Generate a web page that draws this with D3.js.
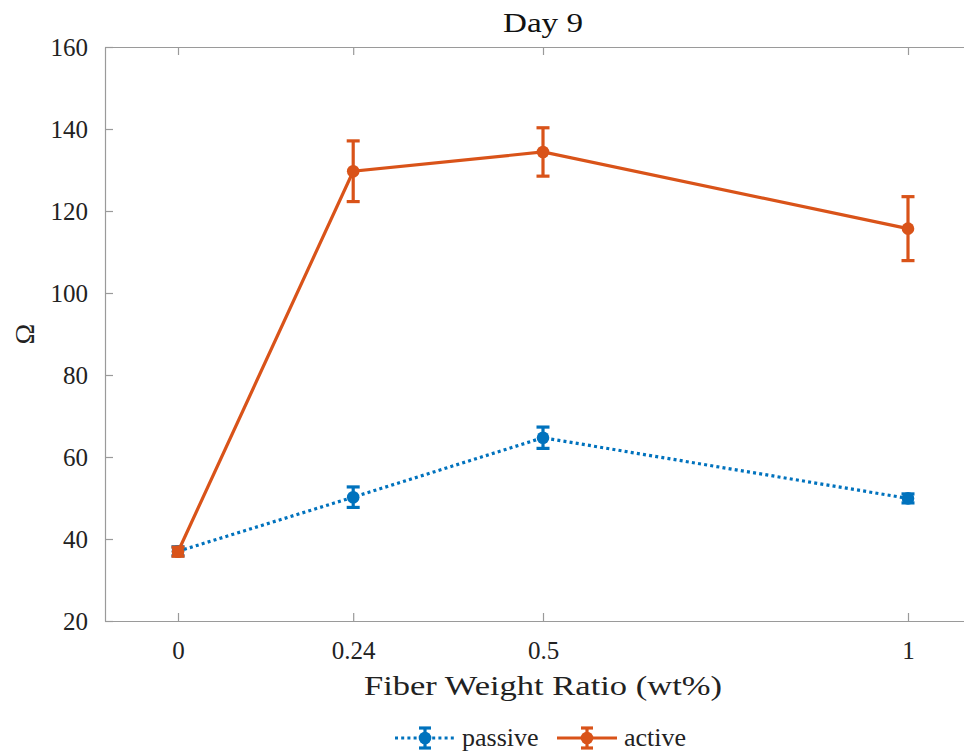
<!DOCTYPE html>
<html>
<head>
<meta charset="utf-8">
<script src="https://cdn.jsdelivr.net/npm/d3@7"></script>
<style>
  body { margin: 0; background: #fff; }
  svg { display: block; }
  svg text { font-family: "Liberation Serif", "DejaVu Serif", "Times New Roman", Times, serif; }
  .axis text { font-size: 25px; fill: #222; }
  .axis path, .axis line { stroke: #9a9a9a; stroke-width: 1.2; }
</style>
</head>
<body>
<script>
var ratios = [0, 0.24, 0.5, 1];
var xTicks = [0, 0.24, 0.5, 1];
var yTicks = [20, 40, 60, 80, 100, 120, 140, 160];
var passive = [37, 50.2, 64.7, 49.9];
var passiveErr = [1.1, 2.5, 2.6, 1.1];
var active = [36.9, 129.7, 134.4, 115.7];
var activeErr = [1.1, 7.4, 5.9, 7.8];

var width = 964, height = 754;
var plotL = 105, plotT = 47, plotR = 981, plotB = 621;

var svg = d3.select("body").append("svg")
    .attr("width", width)
    .attr("height", height);

var x = d3.scaleLinear().domain([-0.1, 1.1]).range([plotL, plotR]);
var y = d3.scaleLinear().domain([20, 160]).range([plotB, plotT]);

// box axes, ticks inward like matlab
svg.append("g").attr("class", "axis")
    .attr("transform", "translate(0," + plotB + ")")
    .call(d3.axisBottom(x).tickValues(xTicks).tickSizeInner(-8).tickSizeOuter(0)
      .tickPadding(20).tickFormat(function(d) { return String(d); }));
svg.append("g").attr("class", "axis")
    .attr("transform", "translate(0," + plotT + ")")
    .call(d3.axisTop(x).tickValues(xTicks).tickSizeInner(-8).tickSizeOuter(0).tickFormat(""));
svg.append("g").attr("class", "axis")
    .attr("transform", "translate(" + plotL + ",0)")
    .call(d3.axisLeft(y).tickValues(yTicks).tickSizeInner(-8).tickSizeOuter(0).tickPadding(17));
svg.append("g").attr("class", "axis")
    .attr("transform", "translate(" + plotR + ",0)")
    .call(d3.axisRight(y).tickValues(yTicks).tickSizeInner(-8).tickSizeOuter(0).tickFormat(""));
svg.selectAll(".axis").attr("font-family", null);

// labels
svg.append("text")
    .attr("x", (plotL + plotR) / 2).attr("y", 32)
    .attr("text-anchor", "middle")
    .attr("font-size", "28px").attr("fill", "#111")
    .attr("textLength", 80).attr("lengthAdjust", "spacingAndGlyphs")
    .text("Day 9");
svg.append("text")
    .attr("x", 543).attr("y", 695)
    .attr("text-anchor", "middle")
    .attr("font-size", "27px").attr("fill", "#222")
    .attr("textLength", 358).attr("lengthAdjust", "spacingAndGlyphs")
    .text("Fiber Weight Ratio (wt%)");
svg.append("text")
    .attr("transform", "translate(34," + ((plotT + plotB) / 2) + ") rotate(-90)")
    .attr("text-anchor", "middle")
    .attr("font-size", "28px").attr("fill", "#222")
    .text("Ω");

function drawSeries(vals, errs, color, dash) {
  var pts = ratios.map(function(r, i) { return { x: r, v: vals[i], e: errs[i] }; });
  var line = d3.line()
      .x(function(d) { return x(d.x); })
      .y(function(d) { return y(d.v); });
  svg.append("path")
      .attr("d", line(pts))
      .attr("fill", "none")
      .attr("stroke", color)
      .attr("stroke-width", 3.2)
      .attr("stroke-dasharray", dash);

  var g = svg.append("g").selectAll("g").data(pts).enter().append("g")
      .attr("stroke", color).attr("stroke-width", 3.2);
  g.append("line")
      .attr("x1", function(d) { return x(d.x); })
      .attr("x2", function(d) { return x(d.x); })
      .attr("y1", function(d) { return y(d.v - d.e); })
      .attr("y2", function(d) { return y(d.v + d.e); });
  [-1, 1].forEach(function(s) {
    g.append("line")
        .attr("x1", function(d) { return x(d.x) - 6.5; })
        .attr("x2", function(d) { return x(d.x) + 6.5; })
        .attr("y1", function(d) { return y(d.v + s * d.e); })
        .attr("y2", function(d) { return y(d.v + s * d.e); });
  });
  g.append("circle")
      .attr("cx", function(d) { return x(d.x); })
      .attr("cy", function(d) { return y(d.v); })
      .attr("r", 6.3)
      .attr("fill", color)
      .attr("stroke", "none");
}

var blue = "#0072BD", orange = "#D95319";
drawSeries(passive, passiveErr, blue, "3,3.2");
drawSeries(active, activeErr, orange, null);

// legend
var legend = [
  { name: "passive", color: blue, dash: "3,3.2", x0: 395 },
  { name: "active", color: orange, dash: null, x0: 557 }
];
var ly = 738;
legend.forEach(function(l) {
  var lg = svg.append("g").attr("stroke", l.color).attr("stroke-width", 3.2);
  lg.append("line").attr("x1", l.x0).attr("x2", l.x0 + 60).attr("y1", ly).attr("y2", ly)
      .attr("stroke-dasharray", l.dash);
  lg.append("line").attr("x1", l.x0 + 30).attr("x2", l.x0 + 30).attr("y1", ly - 10).attr("y2", ly + 10);
  lg.append("line").attr("x1", l.x0 + 24).attr("x2", l.x0 + 36).attr("y1", ly - 10).attr("y2", ly - 10);
  lg.append("line").attr("x1", l.x0 + 24).attr("x2", l.x0 + 36).attr("y1", ly + 10).attr("y2", ly + 10);
  lg.append("circle").attr("cx", l.x0 + 30).attr("cy", ly).attr("r", 6.3).attr("fill", l.color).attr("stroke", "none");
  svg.append("text")
      .attr("x", l.x0 + 67).attr("y", ly + 8)
      .attr("font-size", "26px").attr("fill", "#222")
      .text(l.name);
});
</script>
</body>
</html>
